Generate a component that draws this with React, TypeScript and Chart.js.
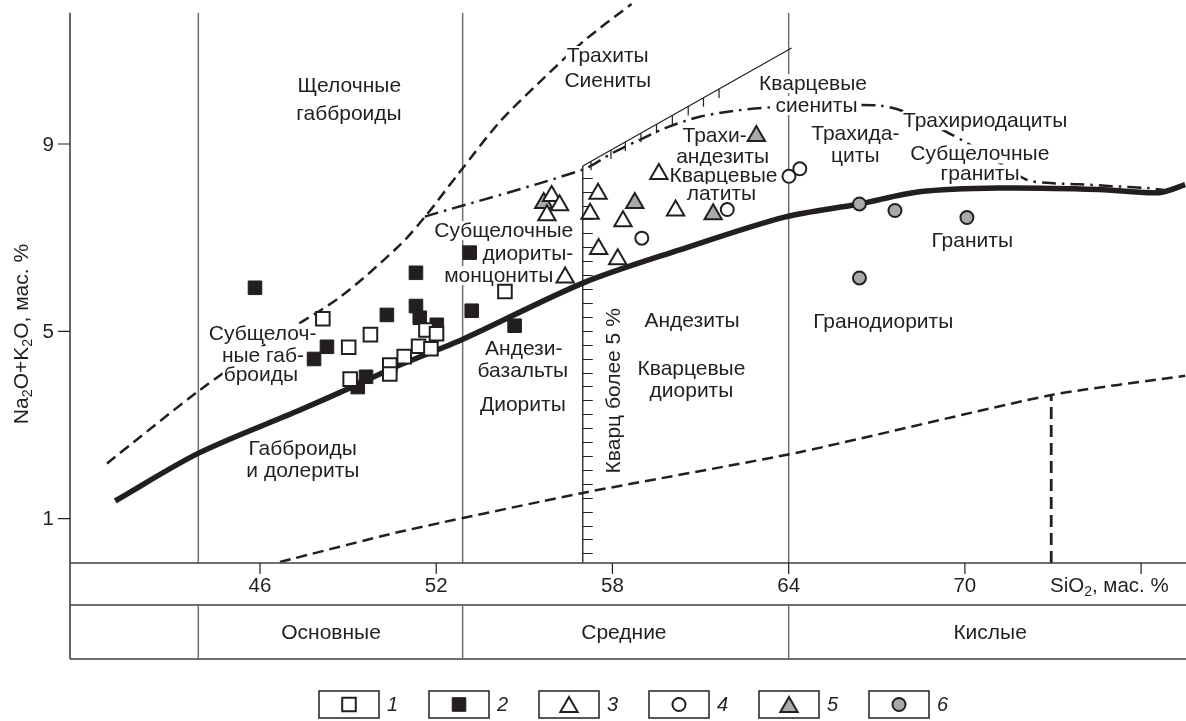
import React, { useEffect, useRef } from 'react';
import { Chart, registerables } from 'chart.js';

Chart.register(...registerables);

const W = 1186;
const H = 721;
const FONT = '"Liberation Sans", Arial, Helvetica, sans-serif';
const INK = '#231f20';
const RULE = '#6d6e71';
const GRAY = '#a7a9ac';

// ---- axes ----
const X_MIN = 39.531;
const X_MAX = 77.529;
const Y_MIN = 0.054;
const Y_MAX = 12.074;
const Y_TOP = 11.8;

const X_TICKS = [46, 52, 58, 64, 70, 76];
const X_TICK_LABELS = ['46', '52', '58', '64', '70', ''];
const Y_TICKS = [1, 5, 9];
const Y_TICK_LABELS = ['1', '5', '9'];

const BOUNDARY_X = [43.9, 52.9, 64];
const GROUP_NAMES = ['Основные', 'Средние', 'Кислые'];
const GROUP_CENTER_X = [48.42, 58.39, 70.86];

// ---- point series ----
const S1_X = [48.14, 49.76, 49.02, 49.07, 50.42, 50.42, 50.91, 51.4, 51.65, 52.01, 51.82, 54.34];
const S1_Y = [5.27, 4.93, 4.66, 3.98, 4.28, 4.09, 4.46, 4.68, 5.03, 4.95, 4.63, 5.85];

const S2_X = [45.83, 48.28, 47.84, 50.32, 51.31, 51.31, 51.44, 52.02, 53.14, 53.21, 54.67, 49.61, 49.33];
const S2_Y = [5.93, 4.67, 4.41, 5.35, 6.25, 5.54, 5.29, 5.14, 6.68, 5.44, 5.12, 4.03, 3.81];

const S3_X = [55.93, 56.2, 55.77, 57.51, 57.24, 58.36, 57.53, 58.18, 60.15, 59.58, 56.39];
const S3_Y = [7.89, 7.69, 7.48, 7.94, 7.51, 7.35, 6.76, 6.54, 7.58, 8.36, 6.15];

const S4_X = [59.0, 61.91, 64.01, 64.38];
const S4_Y = [6.99, 7.6, 8.31, 8.47];

const S5_X = [55.66, 58.76, 61.43, 62.9];
const S5_Y = [7.74, 7.74, 7.5, 9.17];

const S6_X = [66.41, 67.62, 70.07, 66.41];
const S6_Y = [7.72, 7.58, 7.43, 6.14];

const LEGEND_LABELS = ['1', '2', '3', '4', '5', '6'];

// ---- boundary curves ----
const THICK_X = [41.07, 43.91, 47.36, 49.06, 50.76, 52.87, 56.99, 60.29, 63.86, 66.41, 68.45, 71.17, 74.57, 76.61, 77.5];
const THICK_Y = [1.38, 2.4, 3.32, 3.79, 4.28, 4.82, 6.03, 6.74, 7.44, 7.72, 7.98, 8.06, 8.03, 7.96, 8.13];

const UPPER_DASH_X = [40.79, 43.96, 46.23, 48.72, 50.76, 51.61, 52.8, 54.16, 55.52, 56.99, 58.65];
const UPPER_DASH_Y = [2.18, 3.75, 4.74, 5.73, 6.84, 7.44, 8.4, 9.47, 10.32, 11.18, 11.99];

const DASHDOT_X = [51.61, 56.98, 58.01, 58.93, 59.84, 60.97, 62.16, 63.35, 65.39, 67.09, 67.94, 69.37, 70.15, 71.17, 72.09, 72.77, 73.89, 75.01, 76.17, 76.78];
const DASHDOT_Y = [7.45, 8.45, 8.81, 9.09, 9.35, 9.58, 9.71, 9.78, 9.82, 9.82, 9.69, 9.26, 8.99, 8.6, 8.24, 8.17, 8.14, 8.1, 8.06, 8.02];

const LOWER_DASH_X = [46.68, 50.76, 56.99, 64.37, 72.94, 77.5];
const LOWER_DASH_Y = [0.076, 0.72, 1.55, 2.42, 3.64, 4.05];

const GRANITE_DASH_X = [72.94, 72.94];
const GRANITE_DASH_Y = [Y_MIN, 3.64];

const QUARTZ_X = [56.99, 64.1];
const QUARTZ_Y = [8.53, 11.05];
const QUARTZ_VERT_X = [56.99, 56.99];
const QUARTZ_VERT_Y = [Y_MIN, 8.53];
const QUARTZ_HATCH_X = [57.27, 57.95, 58.44, 58.97, 59.5, 60.04, 60.58, 61.1, 61.63];
const RULER_START = 0.26;
const RULER_STEP = 0.297;
const RULER_END = 8.3;

// ---- field names (anchor in data units) ----
const AREA_LABELS: [string, number, number][] = [
  ['Щелочные', 49.04, 10.26],
  ['габброиды', 49.03, 9.66],
  ['Трахиты', 57.84, 10.9],
  ['Сиениты', 57.84, 10.36],
  ['Кварцевые', 64.83, 10.3],
  ['сиениты', 64.95, 9.83],
  ['Трахи-', 61.48, 9.19],
  ['андезиты', 61.75, 8.73],
  ['Кварцевые', 61.78, 8.34],
  ['латиты', 61.71, 7.95],
  ['Трахида-', 66.27, 9.23],
  ['циты', 66.27, 8.76],
  ['Трахириодациты', 70.69, 9.51],
  ['Субщелочные', 70.51, 8.8],
  ['граниты', 70.52, 8.37],
  ['Граниты', 70.25, 6.95],
  ['Гранодиориты', 67.22, 5.21],
  ['Субщелочные', 54.3, 7.16],
  ['диориты-', 55.12, 6.67],
  ['монцониты', 54.13, 6.2],
  ['Андезиты', 60.71, 5.24],
  ['Кварцевые', 60.69, 4.21],
  ['диориты', 60.69, 3.75],
  ['Андези-', 54.98, 4.64],
  ['базальты', 54.95, 4.17],
  ['Диориты', 54.95, 3.45],
  ['Субщелоч-', 46.09, 4.97],
  ['ные габ-', 46.1, 4.49],
  ['броиды', 46.03, 4.09],
  ['Габброиды', 47.45, 2.5],
  ['и долериты', 47.46, 2.04],
];
const QUARTZ_LABEL: [string, number, number] = ['Кварц более 5 %', 58.02, 3.73];

const LABEL_SIZE = 21;

const pts = (xs: number[], ys: number[]) => xs.map((x, i) => ({ x, y: ys[i] }));

type Sty = { style: string; r: number; fill: string; bw: number };
const SERIES_STYLE: Sty[] = [
  { style: 'rect', r: 9.6, fill: '#ffffff', bw: 2 },
  { style: 'rect', r: 9.6, fill: INK, bw: 1 },
  { style: 'triangle', r: 10, fill: '#ffffff', bw: 2 },
  { style: 'circle', r: 6.5, fill: '#ffffff', bw: 2 },
  { style: 'triangle', r: 10, fill: GRAY, bw: 2 },
  { style: 'circle', r: 6.5, fill: GRAY, bw: 2 },
];
const SERIES = [
  [S1_X, S1_Y],
  [S2_X, S2_Y],
  [S3_X, S3_Y],
  [S4_X, S4_Y],
  [S5_X, S5_Y],
  [S6_X, S6_Y],
];

function drawMarker(ctx: CanvasRenderingContext2D, s: Sty, cx: number, cy: number) {
  ctx.beginPath();
  if (s.style === 'rect') {
    const h = s.r * Math.SQRT1_2;
    ctx.rect(cx - h, cy - h, 2 * h, 2 * h);
  } else if (s.style === 'triangle') {
    const a = (2 * Math.PI) / 3;
    ctx.moveTo(cx, cy - s.r);
    ctx.lineTo(cx + Math.sin(a) * s.r, cy - Math.cos(a) * s.r);
    ctx.lineTo(cx - Math.sin(a) * s.r, cy - Math.cos(a) * s.r);
    ctx.closePath();
  } else {
    ctx.arc(cx, cy, s.r, 0, Math.PI * 2);
  }
  ctx.fillStyle = s.fill;
  ctx.fill();
  ctx.lineWidth = s.bw;
  ctx.strokeStyle = INK;
  ctx.stroke();
}

function drawRich(
  ctx: CanvasRenderingContext2D,
  parts: [string, boolean][],
  x: number,
  y: number,
  size: number,
  align: 'center' | 'left'
) {
  const widths = parts.map(([t, sub]) => {
    ctx.font = `${sub ? size * 0.68 : size}px ${FONT}`;
    return ctx.measureText(t).width;
  });
  const total = widths.reduce((a, b) => a + b, 0);
  let cx = align === 'center' ? x - total / 2 : x;
  ctx.textAlign = 'left';
  ctx.textBaseline = 'middle';
  parts.forEach(([t, sub], i) => {
    ctx.font = `${sub ? size * 0.68 : size}px ${FONT}`;
    ctx.fillText(t, cx, y + (sub ? size * 0.3 : 0));
    cx += widths[i];
  });
}

const LINE_DATASET_START = 6;

const overlay = {
  id: 'overlay',
  beforeDatasetsDraw(chart: any) {
    const { ctx } = chart;
    const xs = chart.scales.x;
    const ys = chart.scales.y;
    ctx.save();
    ctx.strokeStyle = INK;
    ctx.lineWidth = 1.2;
    // ruler ticks on the 57% quartz line
    const qx = xs.getPixelForValue(QUARTZ_VERT_X[0]);
    ctx.beginPath();
    for (let v = RULER_START; v <= RULER_END; v += RULER_STEP) {
      const py = Math.round(ys.getPixelForValue(v)) + 0.5;
      ctx.moveTo(qx, py);
      ctx.lineTo(qx + 10, py);
    }
    // hatch on oblique quartz line
    const slope = (QUARTZ_Y[1] - QUARTZ_Y[0]) / (QUARTZ_X[1] - QUARTZ_X[0]);
    QUARTZ_HATCH_X.forEach((hx) => {
      const hy = QUARTZ_Y[0] + (hx - QUARTZ_X[0]) * slope;
      const px = xs.getPixelForValue(hx);
      const py = ys.getPixelForValue(hy);
      ctx.moveTo(px, py);
      ctx.lineTo(px, py + 9);
    });
    ctx.stroke();
    ctx.restore();
  },
  afterDatasetDraw(chart: any, args: any) {
    if (args.index !== LINE_DATASET_START) return;
    const { ctx } = chart;
    const xs = chart.scales.x;
    const ys = chart.scales.y;
    ctx.save();
    ctx.font = `${LABEL_SIZE}px ${FONT}`;
    ctx.textAlign = 'center';
    ctx.textBaseline = 'middle';
    AREA_LABELS.forEach(([t, vx, vy]) => {
      const px = xs.getPixelForValue(vx);
      const py = ys.getPixelForValue(vy);
      const w = ctx.measureText(t).width;
      ctx.fillStyle = '#ffffff';
      ctx.fillRect(px - w / 2 - 1, py - 9, w + 2, 19);
      ctx.fillStyle = INK;
      ctx.fillText(t, px, py + 1);
    });
    const [qt, qvx, qvy] = QUARTZ_LABEL;
    ctx.translate(xs.getPixelForValue(qvx), ys.getPixelForValue(qvy));
    ctx.rotate(-Math.PI / 2);
    const qw = ctx.measureText(qt).width;
    ctx.fillStyle = '#ffffff';
    ctx.fillRect(-qw / 2 - 1, -9, qw + 2, 19);
    ctx.fillStyle = INK;
    ctx.fillText(qt, 0, 1);
    ctx.restore();
  },
  afterDraw(chart: any) {
    const { ctx, chartArea } = chart;
    const xs = chart.scales.x;
    const ys = chart.scales.y;
    const left = chartArea.left;
    const right = chartArea.right;
    const t0 = chartArea.bottom;
    const t1 = 605;
    const t2 = 659;
    ctx.save();
    ctx.strokeStyle = '#414042';
    ctx.lineWidth = 1.6;
    ctx.beginPath();
    [t0, t1, t2].forEach((yy) => {
      ctx.moveTo(left, yy);
      ctx.lineTo(right, yy);
    });
    // left axis
    ctx.moveTo(left, ys.getPixelForValue(Y_TOP));
    ctx.lineTo(left, t2);
    ctx.stroke();
    // table verticals
    ctx.strokeStyle = RULE;
    ctx.lineWidth = 1.5;
    ctx.beginPath();
    BOUNDARY_X.forEach((bx) => {
      const px = xs.getPixelForValue(bx);
      ctx.moveTo(px, t1);
      ctx.lineTo(px, t2);
    });
    ctx.stroke();
    // x ticks
    ctx.strokeStyle = INK;
    ctx.lineWidth = 1.2;
    ctx.beginPath();
    X_TICKS.forEach((tx) => {
      const px = xs.getPixelForValue(tx);
      ctx.moveTo(px, t0);
      ctx.lineTo(px, t0 + 11);
    });
    Y_TICKS.forEach((ty) => {
      const py = ys.getPixelForValue(ty);
      ctx.moveTo(left - 12, py);
      ctx.lineTo(left, py);
    });
    ctx.stroke();
    ctx.fillStyle = INK;
    ctx.font = `20.5px ${FONT}`;
    ctx.textAlign = 'center';
    ctx.textBaseline = 'middle';
    X_TICKS.forEach((tx, i) => {
      if (X_TICK_LABELS[i]) ctx.fillText(X_TICK_LABELS[i], xs.getPixelForValue(tx), 586);
    });
    ctx.textAlign = 'right';
    Y_TICKS.forEach((ty, i) => {
      ctx.fillText(Y_TICK_LABELS[i], left - 16, ys.getPixelForValue(ty) + 1);
    });
    // x title
    drawRich(ctx, [['SiO', false], ['2', true], [', мас. %', false]], 1050, 586, 20.5, 'left');
    // groups
    ctx.font = `21px ${FONT}`;
    ctx.textAlign = 'center';
    GROUP_NAMES.forEach((g, i) => {
      ctx.fillText(g, xs.getPixelForValue(GROUP_CENTER_X[i]), 633);
    });
    // y title
    ctx.save();
    ctx.translate(22, 334);
    ctx.rotate(-Math.PI / 2);
    drawRich(
      ctx,
      [['Na', false], ['2', true], ['O+K', false], ['2', true], ['O, мас. %', false]],
      0,
      0,
      21,
      'center'
    );
    ctx.restore();
    // legend
    const LEG_LEFT = 319;
    const LEG_STEP = 110;
    const LEG_TOP = 691;
    const BW = 60;
    const BH = 27;
    LEGEND_LABELS.forEach((lab, i) => {
      const bx = LEG_LEFT + LEG_STEP * i;
      ctx.strokeStyle = INK;
      ctx.lineWidth = 1.5;
      ctx.strokeRect(bx, LEG_TOP, BW, BH);
      const s = SERIES_STYLE[i];
      const cy = LEG_TOP + BH / 2 + (s.style === 'triangle' ? 2.5 : 0);
      drawMarker(ctx, s, bx + BW / 2, cy);
      ctx.fillStyle = INK;
      ctx.font = `italic 20px ${FONT}`;
      ctx.textAlign = 'left';
      ctx.textBaseline = 'middle';
      ctx.fillText(lab, bx + BW + 8, LEG_TOP + BH / 2 + 1);
    });
    ctx.restore();
  },
};

function lineDs(xs: number[], ys: number[], opts: any) {
  return {
    data: pts(xs, ys),
    showLine: true,
    pointRadius: 0,
    borderColor: INK,
    fill: false,
    tension: 0,
    ...opts,
  };
}

export default function App() {
  const ref = useRef<HTMLCanvasElement>(null);
  useEffect(() => {
    const canvas = ref.current;
    if (!canvas) return;
    const pointSets = SERIES.map(([xs, ys], i) => {
      const s = SERIES_STYLE[i];
      return {
        label: LEGEND_LABELS[i],
        data: pts(xs, ys),
        showLine: false,
        pointStyle: s.style,
        pointRadius: s.r,
        pointBackgroundColor: s.fill,
        pointBorderColor: INK,
        pointBorderWidth: s.bw,
      };
    });
    const lineSets = [
      lineDs(THICK_X, THICK_Y, { borderWidth: 5.5, tension: 0.3 }),
      lineDs(UPPER_DASH_X, UPPER_DASH_Y, { borderWidth: 2.5, borderDash: [11, 6], tension: 0.3 }),
      lineDs(DASHDOT_X, DASHDOT_Y, { borderWidth: 2.5, borderDash: [14, 6, 2.5, 6], tension: 0.3 }),
      lineDs(LOWER_DASH_X, LOWER_DASH_Y, { borderWidth: 2.5, borderDash: [11, 6], tension: 0.2 }),
      lineDs(GRANITE_DASH_X, GRANITE_DASH_Y, { borderWidth: 2.8, borderDash: [12, 6] }),
      lineDs(QUARTZ_X, QUARTZ_Y, { borderWidth: 1.2 }),
      lineDs(QUARTZ_VERT_X, QUARTZ_VERT_Y, { borderWidth: 1.3 }),
      ...BOUNDARY_X.map((bx) =>
        lineDs([bx, bx], [Y_MIN, Y_TOP], { borderWidth: 1.5, borderColor: RULE })
      ),
    ];
    const chart = new Chart(canvas, {
      type: 'scatter',
      data: { datasets: [...pointSets, ...lineSets] as any },
      options: {
        responsive: false,
        animation: false,
        events: [],
        layout: { autoPadding: false, padding: { left: 70, right: 0, top: 0, bottom: 158 } },
        scales: {
          x: { type: 'linear', min: X_MIN, max: X_MAX, display: false },
          y: { type: 'linear', min: Y_MIN, max: Y_MAX, display: false },
        },
        plugins: { legend: { display: false }, tooltip: { enabled: false } },
      },
      plugins: [overlay],
    });
    return () => chart.destroy();
  }, []);
  return (
    <div style={{ position: 'fixed', left: 0, top: 0, width: W, height: H, background: '#fff' }}>
      <canvas ref={ref} width={W} height={H} style={{ display: 'block', width: W, height: H }} />
    </div>
  );
}
